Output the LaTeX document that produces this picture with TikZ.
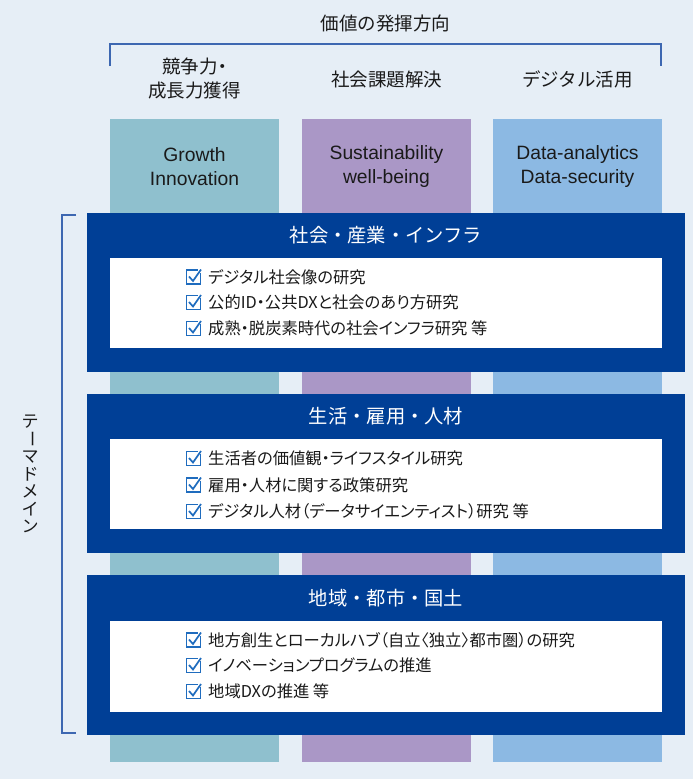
\documentclass[tikz,border=0pt]{standalone}
\usepackage{fontspec}
\setmainfont{Noto Sans CJK JP}
\newfontfamily\itemfont{Noto Sans CJK JP}[RawFeature=+palt]
\newfontfamily\latinfont{Liberation Sans}
\definecolor{bgc}{HTML}{E6EEF6}
\definecolor{dblue}{HTML}{003F96}
\definecolor{colA}{HTML}{8FC0CE}
\definecolor{colB}{HTML}{AA97C6}
\definecolor{colC}{HTML}{8CB9E3}
\definecolor{brkc}{HTML}{3D67B1}
\definecolor{chkc}{HTML}{1F6CBE}
\definecolor{txtc}{HTML}{1A1A1A}
\tikzset{
  colbox/.style={draw=none, inner sep=0, outer sep=0, anchor=north west},
  bluebox/.style={fill=dblue, draw=none, inner sep=0, outer sep=0, anchor=north west, minimum width=598pt, minimum height=159pt},
  whitebox/.style={fill=white, draw=none, inner sep=0, outer sep=0, anchor=north west, minimum width=552pt, minimum height=90pt},
  hdr/.style={text=txtc, font=\fontsize{18.5}{24}\selectfont, align=center, inner sep=0},
  coltxt/.style={text=txtc, font=\latinfont\fontsize{19.3}{24}\selectfont, align=center, inner sep=0},
  boxtitle/.style={text=white, font=\fontsize{19.3}{22}\selectfont, inner sep=0},
  item/.style={text=txtc, font=\itemfont\fontsize{16.3}{18}\selectfont, anchor=west, inner sep=0},
  vchar/.style={text=txtc, font=\fontsize{17}{18}\selectfont, inner sep=0},
  brk/.style={draw=brkc, line width=1.3pt},
  chk/.pic={
    \draw[chkc, line width=1.3pt] (-7,-7) rectangle (7,7);
    \fill[white] (4.5,-8.5) rectangle (8.5,-4.5);
    \draw[chkc, line width=1.7pt, line join=miter] (-4.5,-0.5) -- (-0.5,4) -- (7.5,-7.5);
  }
}
\begin{document}
\begin{tikzpicture}[x=1pt,y=-1pt]
\path[use as bounding box, fill=bgc] (0,0) rectangle (693,779);

% header
\node[hdr] (title) at (385.5,23.5) {価値の発揮方向};
\coordinate (tbl) at (110,66);
\coordinate (tbltop) at (110,44);
\coordinate (tbrtop) at (661,44);
\coordinate (tbr) at (661,66);
\draw[brk] (tbl) -- (tbltop) -- (tbrtop) -- (tbr);
\node[hdr, font=\itemfont\fontsize{18.5}{24}\selectfont] (h1) at (194.5,78.5) {競争力・\\成長力獲得};
\node[hdr] (h2) at (386.5,79) {社会課題解決};
\node[hdr] (h3) at (577.5,79) {デジタル活用};

% columns
\node[colbox, fill=colA, minimum width=169pt, minimum height=643pt] (c1) at (110,119) {};
\node[colbox, fill=colB, minimum width=169pt, minimum height=643pt] (c2) at (302,119) {};
\node[colbox, fill=colC, minimum width=169pt, minimum height=643pt] (c3) at (493,119) {};
\node[coltxt] (ct1) at (194.5,167) {Growth\\Innovation};
\node[coltxt] (ct2) at (386.5,167) {Sustainability\\well-being};
\node[coltxt] (ct3) at (577.5,167) {Data-analytics\\Data-security};

% left bracket
\coordinate (lbt) at (76,215);
\coordinate (lbtc) at (62,215);
\coordinate (lbbc) at (62,733);
\coordinate (lbb) at (76,733);
\draw[brk] (lbt) -- (lbtc) -- (lbbc) -- (lbb);
\node[vchar] (v1) at (30,422) {テ};
\node[vchar, rotate=-90] (v2) at (30,439.4) {ー};
\node[vchar] (v3) at (30,456.8) {マ};
\node[vchar] (v4) at (30,474.2) {ド};
\node[vchar] (v5) at (30,491.6) {メ};
\node[vchar] (v6) at (30,509) {イ};
\node[vchar] (v7) at (30,526.4) {ン};

% box 1
\node[bluebox] (b1) at (87,213) {};
\node[whitebox] (w1) at (110,258) {};
\node[boxtitle] (t1) at (386,235.5) {社会・産業・インフラ};
\pic at (193.5,277) {chk};
\node[item] (i11) at (208,277) {デジタル社会像の研究};
\pic at (193.5,302.5) {chk};
\node[item] (i12) at (208,302.5) {公的ID・公共DXと社会のあり方研究};
\pic at (193.5,328.5) {chk};
\node[item] (i13) at (208,328.5) {成熟・脱炭素時代の社会インフラ研究 等};

% box 2
\node[bluebox] (b2) at (87,394) {};
\node[whitebox] (w2) at (110,439) {};
\node[boxtitle] (t2) at (386,416.5) {生活・雇用・人材};
\pic at (193.5,458.5) {chk};
\node[item] (i21) at (208,458.5) {生活者の価値観・ライフスタイル研究};
\pic at (193.5,485) {chk};
\node[item] (i22) at (208,485) {雇用・人材に関する政策研究};
\pic at (193.5,511.5) {chk};
\node[item] (i23) at (208,511.5) {デジタル人材（データサイエンティスト）研究 等};

% box 3
\node[bluebox, minimum height=160pt] (b3) at (87,575) {};
\node[whitebox, minimum height=91pt] (w3) at (110,621) {};
\node[boxtitle] (t3) at (386,598) {地域・都市・国土};
\pic at (193.5,640) {chk};
\node[item] (i31) at (208,640) {地方創生とローカルハブ（自立〈独立〉都市圏）の研究};
\pic at (193.5,665.5) {chk};
\node[item] (i32) at (208,665.5) {イノベーションプログラムの推進};
\pic at (193.5,691.5) {chk};
\node[item] (i33) at (208,691.5) {地域DXの推進 等};
\end{tikzpicture}
\end{document}
